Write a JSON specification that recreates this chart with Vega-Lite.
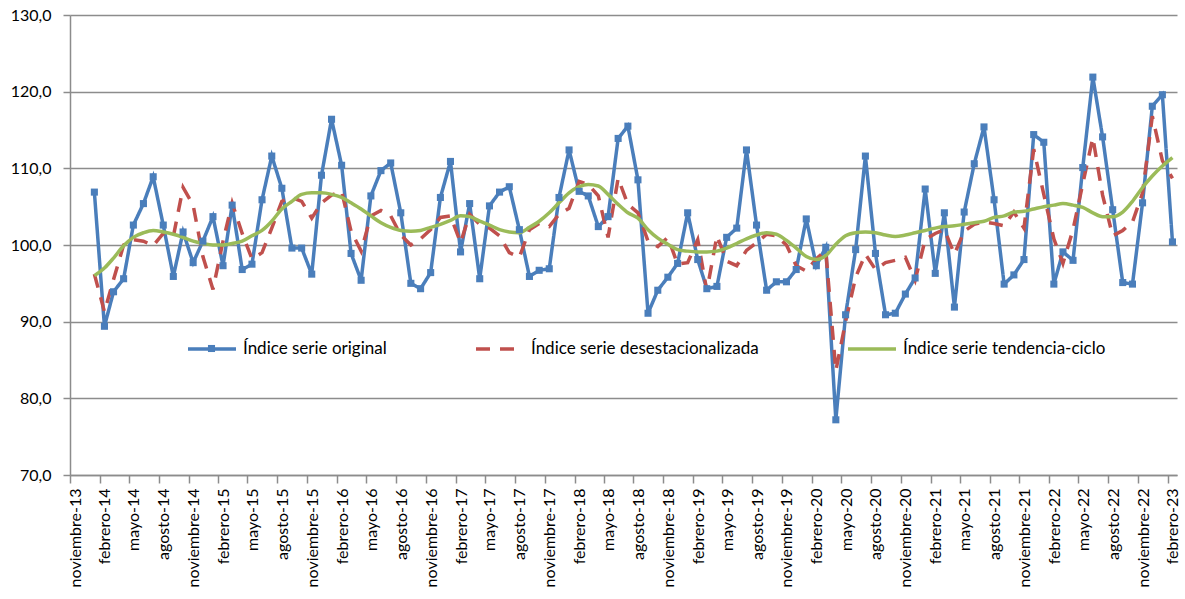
{
  "$schema": "https://vega.github.io/schema/vega-lite/v6.json",
  "autosize": "none",
  "width": 1107,
  "height": 460,
  "padding": {"left": 70, "top": 15, "right": 8, "bottom": 124},
  "background": "white",
  "config": {
    "view": {"stroke": null},
    "font": "Lato"
  },
  "data": {
    "values": [
      {"fecha": "2014-01-15", "original": 106.9, "desest": 96.2, "tendencia": 96.0},
      {"fecha": "2014-02-15", "original": 89.4, "desest": 91.3, "tendencia": 97.0},
      {"fecha": "2014-03-15", "original": 93.9, "desest": 95.5, "tendencia": 98.3},
      {"fecha": "2014-04-15", "original": 95.6, "desest": 100.0, "tendencia": 99.9},
      {"fecha": "2014-05-15", "original": 102.6, "desest": 100.7, "tendencia": 101.0},
      {"fecha": "2014-06-15", "original": 105.4, "desest": 100.5, "tendencia": 101.6},
      {"fecha": "2014-07-15", "original": 108.9, "desest": 99.9, "tendencia": 101.9},
      {"fecha": "2014-08-15", "original": 102.6, "desest": 101.5, "tendencia": 101.7},
      {"fecha": "2014-09-15", "original": 95.9, "desest": 101.1, "tendencia": 101.4},
      {"fecha": "2014-10-15", "original": 101.7, "desest": 107.5, "tendencia": 101.0},
      {"fecha": "2014-11-15", "original": 97.7, "desest": 105.2, "tendencia": 100.5},
      {"fecha": "2014-12-15", "original": 100.5, "desest": 98.5, "tendencia": 100.2},
      {"fecha": "2015-01-15", "original": 103.7, "desest": 94.2, "tendencia": 100.0},
      {"fecha": "2015-02-15", "original": 97.3, "desest": 100.5, "tendencia": 100.0},
      {"fecha": "2015-03-15", "original": 105.2, "desest": 105.5, "tendencia": 100.2},
      {"fecha": "2015-04-15", "original": 96.8, "desest": 101.5, "tendencia": 100.5},
      {"fecha": "2015-05-15", "original": 97.5, "desest": 98.2, "tendencia": 101.2},
      {"fecha": "2015-06-15", "original": 105.9, "desest": 99.0, "tendencia": 101.9},
      {"fecha": "2015-07-15", "original": 111.6, "desest": 102.2, "tendencia": 103.1},
      {"fecha": "2015-08-15", "original": 107.4, "desest": 105.7, "tendencia": 104.7},
      {"fecha": "2015-09-15", "original": 99.6, "desest": 106.2, "tendencia": 105.7},
      {"fecha": "2015-10-15", "original": 99.6, "desest": 105.7, "tendencia": 106.6},
      {"fecha": "2015-11-15", "original": 96.2, "desest": 103.5, "tendencia": 106.8},
      {"fecha": "2015-12-15", "original": 109.1, "desest": 105.5, "tendencia": 106.8},
      {"fecha": "2016-01-15", "original": 116.4, "desest": 106.5, "tendencia": 106.6},
      {"fecha": "2016-02-15", "original": 110.4, "desest": 107.0, "tendencia": 106.2},
      {"fecha": "2016-03-15", "original": 98.9, "desest": 101.8, "tendencia": 105.5},
      {"fecha": "2016-04-15", "original": 95.4, "desest": 99.2, "tendencia": 104.7},
      {"fecha": "2016-05-15", "original": 106.4, "desest": 103.8, "tendencia": 103.8},
      {"fecha": "2016-06-15", "original": 109.7, "desest": 104.5, "tendencia": 102.9},
      {"fecha": "2016-07-15", "original": 110.7, "desest": 103.8, "tendencia": 102.3},
      {"fecha": "2016-08-15", "original": 104.2, "desest": 101.3, "tendencia": 101.9},
      {"fecha": "2016-09-15", "original": 95.0, "desest": 100.0, "tendencia": 101.8},
      {"fecha": "2016-10-15", "original": 94.3, "desest": 100.8, "tendencia": 101.9},
      {"fecha": "2016-11-15", "original": 96.4, "desest": 102.0, "tendencia": 102.3},
      {"fecha": "2016-12-15", "original": 106.2, "desest": 103.6, "tendencia": 102.7},
      {"fecha": "2017-01-15", "original": 110.9, "desest": 103.8, "tendencia": 103.2},
      {"fecha": "2017-02-15", "original": 99.1, "desest": 100.3, "tendencia": 103.8},
      {"fecha": "2017-03-15", "original": 105.4, "desest": 104.0, "tendencia": 103.7},
      {"fecha": "2017-04-15", "original": 95.6, "desest": 102.7, "tendencia": 103.1},
      {"fecha": "2017-05-15", "original": 105.1, "desest": 102.2, "tendencia": 102.6},
      {"fecha": "2017-06-15", "original": 106.9, "desest": 101.2, "tendencia": 102.0},
      {"fecha": "2017-07-15", "original": 107.6, "desest": 99.0, "tendencia": 101.7},
      {"fecha": "2017-08-15", "original": 102.0, "desest": 98.4, "tendencia": 101.6},
      {"fecha": "2017-09-15", "original": 95.9, "desest": 102.0, "tendencia": 102.3},
      {"fecha": "2017-10-15", "original": 96.7, "desest": 102.8, "tendencia": 103.1},
      {"fecha": "2017-11-15", "original": 96.9, "desest": 102.4, "tendencia": 104.2},
      {"fecha": "2017-12-15", "original": 106.2, "desest": 104.0, "tendencia": 105.5},
      {"fecha": "2018-01-15", "original": 112.4, "desest": 104.8, "tendencia": 106.8},
      {"fecha": "2018-02-15", "original": 107.0, "desest": 108.3, "tendencia": 107.6},
      {"fecha": "2018-03-15", "original": 106.4, "desest": 107.9, "tendencia": 107.9},
      {"fecha": "2018-04-15", "original": 102.4, "desest": 106.4, "tendencia": 107.7},
      {"fecha": "2018-05-15", "original": 103.7, "desest": 101.0, "tendencia": 106.6},
      {"fecha": "2018-06-15", "original": 113.9, "desest": 108.7, "tendencia": 105.3},
      {"fecha": "2018-07-15", "original": 115.5, "desest": 105.3, "tendencia": 104.2},
      {"fecha": "2018-08-15", "original": 108.5, "desest": 104.2, "tendencia": 103.5},
      {"fecha": "2018-09-15", "original": 91.1, "desest": 100.5, "tendencia": 102.0},
      {"fecha": "2018-10-15", "original": 94.1, "desest": 99.8, "tendencia": 100.9},
      {"fecha": "2018-11-15", "original": 95.8, "desest": 101.0, "tendencia": 100.1},
      {"fecha": "2018-12-15", "original": 97.6, "desest": 97.5, "tendencia": 99.4},
      {"fecha": "2019-01-15", "original": 104.2, "desest": 97.7, "tendencia": 99.2},
      {"fecha": "2019-02-15", "original": 98.1, "desest": 100.7, "tendencia": 99.1},
      {"fecha": "2019-03-15", "original": 94.3, "desest": 94.0, "tendencia": 99.1},
      {"fecha": "2019-04-15", "original": 94.6, "desest": 101.2, "tendencia": 99.2},
      {"fecha": "2019-05-15", "original": 101.0, "desest": 97.9, "tendencia": 99.6},
      {"fecha": "2019-06-15", "original": 102.2, "desest": 97.3, "tendencia": 100.2},
      {"fecha": "2019-07-15", "original": 112.4, "desest": 99.3, "tendencia": 100.8},
      {"fecha": "2019-08-15", "original": 102.6, "desest": 100.3, "tendencia": 101.3},
      {"fecha": "2019-09-15", "original": 94.1, "desest": 101.4, "tendencia": 101.6},
      {"fecha": "2019-10-15", "original": 95.2, "desest": 101.2, "tendencia": 101.4},
      {"fecha": "2019-11-15", "original": 95.2, "desest": 100.0, "tendencia": 100.6},
      {"fecha": "2019-12-15", "original": 96.8, "desest": 97.3, "tendencia": 99.6},
      {"fecha": "2020-01-15", "original": 103.4, "desest": 96.6, "tendencia": 98.5},
      {"fecha": "2020-02-15", "original": 97.3, "desest": 98.2, "tendencia": 98.1},
      {"fecha": "2020-03-15", "original": 99.7, "desest": 99.3, "tendencia": 98.6},
      {"fecha": "2020-04-15", "original": 77.2, "desest": 83.6, "tendencia": 100.1},
      {"fecha": "2020-05-15", "original": 90.9, "desest": 90.0, "tendencia": 101.2},
      {"fecha": "2020-06-15", "original": 99.4, "desest": 95.8, "tendencia": 101.6},
      {"fecha": "2020-07-15", "original": 111.6, "desest": 98.8, "tendencia": 101.7},
      {"fecha": "2020-08-15", "original": 98.9, "desest": 96.8, "tendencia": 101.6},
      {"fecha": "2020-09-15", "original": 90.9, "desest": 97.7, "tendencia": 101.3},
      {"fecha": "2020-10-15", "original": 91.1, "desest": 98.0, "tendencia": 101.1},
      {"fecha": "2020-11-15", "original": 93.6, "desest": 98.4, "tendencia": 101.3},
      {"fecha": "2020-12-15", "original": 95.7, "desest": 95.4, "tendencia": 101.6},
      {"fecha": "2021-01-15", "original": 107.3, "desest": 100.7, "tendencia": 101.9},
      {"fecha": "2021-02-15", "original": 96.3, "desest": 101.5, "tendencia": 102.2},
      {"fecha": "2021-03-15", "original": 104.2, "desest": 102.0, "tendencia": 102.4},
      {"fecha": "2021-04-15", "original": 91.9, "desest": 98.8, "tendencia": 102.5},
      {"fecha": "2021-05-15", "original": 104.3, "desest": 101.8, "tendencia": 102.7},
      {"fecha": "2021-06-15", "original": 110.6, "desest": 102.7, "tendencia": 102.9},
      {"fecha": "2021-07-15", "original": 115.4, "desest": 103.0, "tendencia": 103.1},
      {"fecha": "2021-08-15", "original": 105.9, "desest": 102.8, "tendencia": 103.6},
      {"fecha": "2021-09-15", "original": 94.9, "desest": 102.5, "tendencia": 103.8},
      {"fecha": "2021-10-15", "original": 96.1, "desest": 104.3, "tendencia": 104.3},
      {"fecha": "2021-11-15", "original": 98.1, "desest": 102.2, "tendencia": 104.4},
      {"fecha": "2021-12-15", "original": 114.4, "desest": 112.5, "tendencia": 104.7},
      {"fecha": "2022-01-15", "original": 113.4, "desest": 106.6, "tendencia": 105.0},
      {"fecha": "2022-02-15", "original": 94.9, "desest": 100.8, "tendencia": 105.2},
      {"fecha": "2022-03-15", "original": 99.1, "desest": 97.6, "tendencia": 105.4},
      {"fecha": "2022-04-15", "original": 98.0, "desest": 102.0, "tendencia": 105.2},
      {"fecha": "2022-05-15", "original": 110.1, "desest": 108.0, "tendencia": 104.9},
      {"fecha": "2022-06-15", "original": 121.9, "desest": 114.0, "tendencia": 104.2},
      {"fecha": "2022-07-15", "original": 114.1, "desest": 106.5, "tendencia": 103.7},
      {"fecha": "2022-08-15", "original": 104.6, "desest": 101.2, "tendencia": 103.7},
      {"fecha": "2022-09-15", "original": 95.1, "desest": 101.9, "tendencia": 104.3},
      {"fecha": "2022-10-15", "original": 94.9, "desest": 103.0, "tendencia": 105.7},
      {"fecha": "2022-11-15", "original": 105.5, "desest": 106.8, "tendencia": 107.5},
      {"fecha": "2022-12-15", "original": 118.1, "desest": 116.8, "tendencia": 109.0},
      {"fecha": "2023-01-15", "original": 119.6, "desest": 111.0, "tendencia": 110.3},
      {"fecha": "2023-02-15", "original": 100.4, "desest": 108.7, "tendencia": 111.4}
    ]
  },
  "transform": [
    {"fold": ["original", "desest", "tendencia"], "as": ["serie", "valor"]}
  ],
  "encoding": {
    "x": {
      "field": "fecha",
      "type": "temporal",
      "scale": {
        "type": "utc",
        "domain": [
          {"year": 2013, "month": 11, "date": 1, "utc": true},
          {"year": 2023, "month": 3, "date": 1, "utc": true}
        ]
      },
      "axis": {
        "title": null,
        "grid": false,
        "values": [
          {"year": 2013, "month": 11, "date": 1, "utc": true},
          {"year": 2014, "month": 2, "date": 1, "utc": true},
          {"year": 2014, "month": 5, "date": 1, "utc": true},
          {"year": 2014, "month": 8, "date": 1, "utc": true},
          {"year": 2014, "month": 11, "date": 1, "utc": true},
          {"year": 2015, "month": 2, "date": 1, "utc": true},
          {"year": 2015, "month": 5, "date": 1, "utc": true},
          {"year": 2015, "month": 8, "date": 1, "utc": true},
          {"year": 2015, "month": 11, "date": 1, "utc": true},
          {"year": 2016, "month": 2, "date": 1, "utc": true},
          {"year": 2016, "month": 5, "date": 1, "utc": true},
          {"year": 2016, "month": 8, "date": 1, "utc": true},
          {"year": 2016, "month": 11, "date": 1, "utc": true},
          {"year": 2017, "month": 2, "date": 1, "utc": true},
          {"year": 2017, "month": 5, "date": 1, "utc": true},
          {"year": 2017, "month": 8, "date": 1, "utc": true},
          {"year": 2017, "month": 11, "date": 1, "utc": true},
          {"year": 2018, "month": 2, "date": 1, "utc": true},
          {"year": 2018, "month": 5, "date": 1, "utc": true},
          {"year": 2018, "month": 8, "date": 1, "utc": true},
          {"year": 2018, "month": 11, "date": 1, "utc": true},
          {"year": 2019, "month": 2, "date": 1, "utc": true},
          {"year": 2019, "month": 5, "date": 1, "utc": true},
          {"year": 2019, "month": 8, "date": 1, "utc": true},
          {"year": 2019, "month": 11, "date": 1, "utc": true},
          {"year": 2020, "month": 2, "date": 1, "utc": true},
          {"year": 2020, "month": 5, "date": 1, "utc": true},
          {"year": 2020, "month": 8, "date": 1, "utc": true},
          {"year": 2020, "month": 11, "date": 1, "utc": true},
          {"year": 2021, "month": 2, "date": 1, "utc": true},
          {"year": 2021, "month": 5, "date": 1, "utc": true},
          {"year": 2021, "month": 8, "date": 1, "utc": true},
          {"year": 2021, "month": 11, "date": 1, "utc": true},
          {"year": 2022, "month": 2, "date": 1, "utc": true},
          {"year": 2022, "month": 5, "date": 1, "utc": true},
          {"year": 2022, "month": 8, "date": 1, "utc": true},
          {"year": 2022, "month": 11, "date": 1, "utc": true},
          {"year": 2023, "month": 2, "date": 1, "utc": true}
        ],
        "labelExpr": "['enero','febrero','marzo','abril','mayo','junio','julio','agosto','septiembre','octubre','noviembre','diciembre'][utcmonth(datum.value)] + '-' + utcFormat(datum.value, '%y')",
        "labelAngle": -90,
        "labelAlign": "right",
        "labelBaseline": "middle",
        "labelOffset": 5,
        "labelPadding": 5,
        "labelFlush": false,
        "labelOverlap": false,
        "labelBound": false,
        "labelFont": "Lato",
        "labelFontSize": 16,
        "labelColor": "#000000",
        "domainColor": "#8c8c8c",
        "domainWidth": 1.5,
        "tickColor": "#8c8c8c",
        "tickWidth": 1.5,
        "tickSize": 8
      }
    },
    "y": {
      "field": "valor",
      "type": "quantitative",
      "scale": {"domain": [70, 130], "nice": false, "zero": false},
      "axis": {
        "title": null,
        "values": [70, 80, 90, 100, 110, 120, 130],
        "labelExpr": "replace(format(datum.value, '.1f'), '.', ',')",
        "grid": true,
        "gridColor": "#8c8c8c",
        "gridWidth": 1.5,
        "domainColor": "#8c8c8c",
        "domainWidth": 1.5,
        "tickColor": "#8c8c8c",
        "tickWidth": 1.5,
        "tickSize": 7,
        "labelPadding": 12,
        "labelFont": "Lato",
        "labelFontSize": 16,
        "labelColor": "#000000"
      }
    }
  },
  "layer": [
    {
      "transform": [{"filter": "datum.serie != 'tendencia'"}],
      "mark": {"type": "line", "strokeWidth": 3.5, "interpolate": "linear"},
      "encoding": {
        "color": {
          "field": "serie",
          "type": "nominal",
          "scale": {"domain": ["original", "desest", "tendencia"], "range": ["#4A7EBB", "#C0504D", "#9BBB59"]},
          "legend": {
            "title": null,
            "orient": "none",
            "legendX": 116,
            "legendY": 308,
            "direction": "horizontal",
            "symbolType": "stroke",
            "symbolSize": 2304,
            "symbolStrokeWidth": 3.5,
            "labelFont": "Lato",
            "labelFontSize": 17,
            "labelColor": "#000000",
            "labelLimit": 400,
            "labelOffset": 5,
            "columnPadding": 82,
            "padding": 0,
            "labelExpr": "datum.value == 'original' ? 'Índice serie original' : datum.value == 'desest' ? 'Índice serie desestacionalizada' : 'Índice serie tendencia-ciclo'"
          }
        },
        "strokeDash": {
          "field": "serie",
          "type": "nominal",
          "scale": {"domain": ["original", "desest", "tendencia"], "range": [[1, 0], [14, 10], [1, 0]]},
          "legend": {
            "title": null,
            "orient": "none",
            "legendX": 116,
            "legendY": 308,
            "direction": "horizontal",
            "symbolType": "stroke",
            "symbolSize": 2304,
            "symbolStrokeWidth": 3.5,
            "labelFont": "Lato",
            "labelFontSize": 17,
            "labelColor": "#000000",
            "labelLimit": 400,
            "labelOffset": 5,
            "columnPadding": 82,
            "padding": 0,
            "labelExpr": "datum.value == 'original' ? 'Índice serie original' : datum.value == 'desest' ? 'Índice serie desestacionalizada' : 'Índice serie tendencia-ciclo'"
          }
        },
        "order": {"field": "serie", "sort": "descending"}
      }
    },
    {
      "transform": [{"filter": "datum.serie == 'tendencia'"}],
      "mark": {"type": "line", "strokeWidth": 3.5, "interpolate": "monotone", "color": "#9BBB59"},
      "encoding": {}
    },
    {
      "transform": [{"filter": "datum.serie == 'original'"}],
      "mark": {"type": "point", "shape": "square", "size": 50, "filled": true, "opacity": 1},
      "encoding": {
        "fill": {
          "field": "serie",
          "type": "nominal",
          "scale": {"domain": ["original"], "range": ["#4A7EBB"]},
          "legend": {
            "title": null,
            "orient": "none",
            "legendX": 136.5,
            "legendY": 328.5,
            "symbolType": "square",
            "symbolSize": 50,
            "symbolStrokeWidth": 0,
            "symbolOpacity": 1,
            "labelExpr": "''",
            "padding": 0
          }
        }
      }
    }
  ]
}
